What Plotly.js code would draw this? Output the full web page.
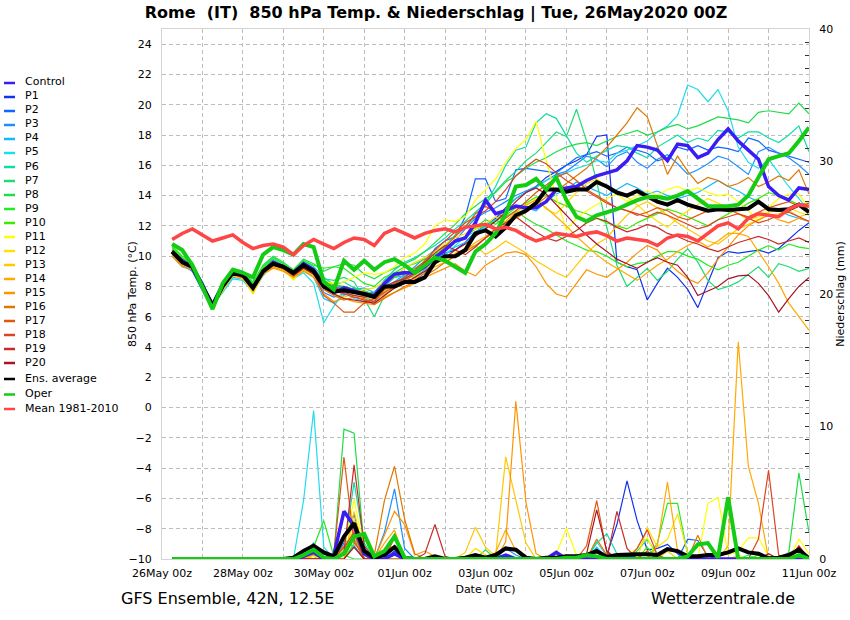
<!DOCTYPE html>
<html>
<head>
<meta charset="utf-8">
<script src="https://cdn.plot.ly/plotly-3.0.1.min.js"></script>
<style>
html,body{margin:0;padding:0;background:#ffffff;}
#chart{width:850px;height:620px;}
</style>
</head>
<body>
<div id="chart"></div>
<script>
// ---------------- DATA (6-hourly steps, 26May 06z ... 11Jun 00z) ----------------
const memberNames = ['Control','P1','P2','P3','P4','P5','P6','P7','P8','P9','P10',
  'P11','P12','P13','P14','P15','P16','P17','P18','P19','P20'];
const tickLabels = ['26May 00z','28May 00z','30May 00z','01Jun 00z','03Jun 00z','05Jun 00z','07Jun 00z','09Jun 00z','11Jun 00z'];

// 850 hPa temperature (°C)
const tControl = [10.3,9.7,9.3,8.1,6.8,8.1,9.0,8.8, 7.9,9.0,9.6,9.3,8.9,9.5,9.1,8.1, 7.6,7.9,7.7,7.5,7.4,8.2,8.8,8.9, 8.9,9.3,9.9,10.4,11.0,11.2,12.2,13.7, 12.8,13.0,13.3,13.2,13.2,13.6,14.4,14.5, 14.6,15.0,15.3,15.5,15.7,16.3,17.3,17.2, 17.0,16.3,17.4,17.3,16.5,16.8,17.7,18.4, 17.6,17.0,16.4,14.6,14.0,13.7,14.5,14.4];
const tP1 = [10.2,9.5,9.4,8.3,6.8,8.0,8.8,8.7, 8.0,9.1,9.4,9.2,8.8,9.3,8.9,8.2, 7.8,7.6,7.9,7.7,7.4,7.8,8.1,8.5, 8.4,8.9,9.7,10.2,10.4,10.9,11.6,12.0, 12.5,13.2,13.8,14.2,14.6,15.2,15.6,16.0, 16.3,16.7,17.9,18.0,9.6,9.3,9.1,7.1, 8.2,9.2,8.6,7.8,6.6,8.2,9.9,10.3, 10.2,10.3,10.4,10.2,10.5,11.1,11.7,12.2];
const tP2 = [10.4,9.7,9.0,7.8,6.6,8.1,9.0,8.9, 8.1,9.1,9.7,9.4,9.0,9.6,9.2,8.3, 7.9,8.0,7.8,7.6,7.6,8.4,8.9,9.0, 8.8,9.4,10.5,11.0,11.3,12.6,15.1,15.1, 13.6,13.8,15.7,15.8,15.7,15.6,15.5,16.0, 16.5,16.7,16.9,16.6,16.8,17.2,17.0,16.8, 16.3,16.5,17.2,17.0,17.3,17.0,17.2,17.1, 16.9,17.8,17.6,17.0,16.8,16.6,16.4,16.2];
const tP3 = [10.1,9.4,9.0,7.7,6.6,7.9,8.7,8.6, 7.8,8.9,9.3,9.1,8.7,9.2,8.8,7.6, 7.3,7.5,7.4,7.3,7.0,7.6,8.3,8.8, 9.3,9.9,10.4,10.6,11.0,11.8,12.5,12.9, 13.2,13.6,14.0,14.3,14.6,15.0,15.4,15.6, 16.1,16.6,16.4,15.9,16.6,16.9,16.2,15.8, 16.4,16.7,16.1,15.4,15.7,16.1,16.6,16.4, 15.9,15.4,16.9,17.2,16.8,16.5,16.0,15.4];
const tP4 = [10.0,9.3,9.1,7.9,6.7,7.7,8.6,8.5, 7.7,8.8,9.4,9.2,8.6,9.1,8.6,7.2, 6.9,7.4,7.8,7.9,7.6,8.0,8.6,8.7, 8.6,9.1,9.8,10.1,10.6,10.9,11.4,12.1, 12.4,12.0,12.6,13.2,13.0,13.6,14.1,14.4, 14.9,14.6,14.3,14.0,14.4,14.8,14.5,14.1, 14.3,14.0,13.8,14.0,14.2,14.6,15.0,14.6, 14.3,13.9,13.6,13.2,13.0,12.7,12.5,12.3];
const tP5 = [10.0,9.4,9.2,7.8,6.7,7.6,8.5,8.4, 7.6,8.7,9.4,9.1,8.5,8.9,8.2,5.6, 6.7,7.6,7.2,7.0,7.5,7.9,8.3,8.6, 8.8,9.2,9.8,10.1,10.7,11.3,11.6,11.9, 12.4,13.1,13.8,14.2,14.5,15.0,15.3,15.5, 15.8,16.0,16.3,16.2,16.8,17.0,17.3,17.6, 18.2,18.6,19.3,21.3,21.0,20.2,21.0,19.6, 17.2,16.2,15.8,16.4,15.5,14.6,13.8,13.0];
const tP6 = [10.5,9.8,9.4,8.1,6.9,8.2,9.1,9.0, 8.1,9.3,9.9,9.5,9.0,9.7,9.3,8.6, 8.1,8.3,7.9,7.7,7.5,8.4,9.1,9.6, 9.9,10.3,10.7,11.2,11.8,12.3,12.9,13.5, 14.6,16.0,17.0,17.2,18.8,19.4,19.1,17.9, 16.8,16.2,16.6,17.0,17.3,17.2,16.8,16.5, 17.2,17.6,18.0,17.5,17.8,17.6,18.3,18.2, 17.8,18.2,18.2,17.8,17.5,18.0,18.6,16.9];
const tP7 = [10.4,9.7,9.3,8.0,6.8,8.1,9.0,8.9, 8.2,9.2,9.8,9.4,8.9,9.6,9.1,8.5, 8.4,8.6,8.3,7.2,6.0,7.4,8.0,8.7, 9.0,9.6,10.2,10.7,11.4,12.0,12.6,13.4, 14.3,15.0,15.6,16.3,16.8,17.5,18.2,17.9, 19.7,17.6,14.9,11.9,9.4,8.0,8.6,9.2, 8.4,9.0,9.8,10.5,9.6,8.4,7.8,8.0, 8.3,8.8,9.3,8.6,9.5,9.3,9.0,9.2];
const tP8 = [10.6,9.9,9.5,8.2,6.9,8.3,9.2,9.0, 8.3,9.4,10.0,9.6,9.1,9.8,9.5,9.0, 9.3,9.5,9.4,8.8,8.5,8.9,9.2,9.5, 9.8,10.3,10.9,11.5,12.1,12.8,13.3,13.8, 14.2,14.9,15.3,15.8,16.2,16.5,16.9,17.2, 17.4,17.5,17.3,17.6,17.9,18.1,18.3,18.0, 18.2,18.5,18.7,18.4,18.6,18.9,19.2,19.1, 19.0,18.8,19.5,19.6,19.5,19.4,20.1,19.4];
const tP9 = [10.7,10.0,9.6,8.2,6.8,8.2,9.1,8.9, 8.2,9.3,9.9,9.5,9.0,9.7,9.4,9.2, 9.3,9.2,8.7,8.2,8.0,8.6,8.9,9.3, 9.5,9.8,10.1,10.5,10.9,11.2,11.9,12.4, 12.1,12.6,13.0,12.5,12.1,11.8,11.4,11.0, 10.7,10.4,10.3,10.0,9.6,9.3,9.5,9.6, 10.0,10.3,10.3,10.0,9.8,9.4,9.1,9.4, 9.6,10.0,10.4,10.7,10.4,10.8,10.6,10.5];
const tP10 = [10.6,9.9,9.4,8.0,6.7,8.1,9.0,8.8, 8.1,9.2,9.7,9.3,8.9,9.5,9.1,8.4, 8.1,8.0,7.8,7.7,7.5,8.2,8.6,8.9, 9.2,9.6,10.0,10.6,11.0,11.3,11.8,12.0, 12.3,12.7,13.2,13.5,13.9,14.0,13.6,13.3, 13.0,12.8,12.5,12.2,12.0,11.8,12.2,12.5, 12.8,13.1,12.9,12.6,12.3,12.0,12.4,12.8, 13.1,13.5,13.8,14.2,14.0,13.7,13.4,13.5];
const tP11 = [10.2,9.6,9.3,8.0,6.6,7.8,8.8,8.6, 7.6,8.8,9.4,9.2,8.4,9.3,9.0,8.3, 8.2,8.3,8.6,8.9,8.8,8.9,9.3,9.9, 10.2,10.8,12.0,12.4,12.3,12.6,13.7,14.4, 15.1,16.2,17.1,17.7,18.9,16.3,13.9,11.7, 12.5,13.0,13.4,13.8,14.1,13.6,14.0,14.3, 14.0,14.4,14.6,14.3,14.5,14.2,14.0,14.1, 13.6,13.0,12.3,13.2,13.8,14.1,14.1,13.2];
const tP12 = [10.3,9.5,9.2,7.9,6.6,7.7,8.7,8.6, 7.5,8.8,9.3,9.1,8.5,9.2,8.8,8.0, 7.9,7.8,7.6,7.8,7.9,8.3,8.7,9.2, 9.6,9.9,10.3,10.8,11.2,11.5,11.8,12.1, 12.6,12.2,12.7,13.3,13.8,13.1,12.8,13.5, 14.2,14.8,15.1,14.6,14.2,13.9,13.4,12.8, 12.3,11.9,12.5,13.0,13.4,13.8,13.5,13.2, 12.8,12.4,12.6,12.9,13.0,13.2,12.9,12.7];
const tP13 = [10.2,9.5,9.2,7.9,6.7,7.8,8.7,8.5, 7.7,8.8,9.3,9.0,8.6,9.1,8.7,7.9, 7.5,7.3,7.5,7.6,7.2,7.7,8.1,8.4, 8.7,9.2,9.5,9.8,10.2,10.5,10.7,10.1, 10.5,11.0,10.6,10.2,9.7,9.3,8.9,8.6, 9.4,10.2,10.8,11.2,12.0,12.7,13.3,13.6, 13.2,12.7,12.2,11.8,11.4,11.0,10.8,11.3, 11.8,12.1,12.4,12.7,12.8,13.0,12.6,12.8];
const tP14 = [10.1,9.4,9.3,8.1,6.7,7.9,8.8,8.6, 7.8,8.9,9.3,9.1,8.7,9.2,8.9,8.0, 7.7,7.9,7.6,7.3,7.1,7.5,7.9,8.2, 8.5,8.9,9.3,9.6,10.0,10.4,10.9,11.3, 11.8,12.3,12.9,13.4,13.7,13.2,12.6,12.0, 11.3,10.7,10.1,9.6,9.2,8.8,8.4,8.9, 9.4,9.8,10.3,10.7,11.0,10.6,11.0,11.5, 11.5,11.3,10.3,9.3,8.2,6.9,6.0,5.1];
const tP15 = [10.0,9.3,9.1,7.9,6.6,7.9,8.8,8.6, 7.8,8.8,9.2,9.0,8.6,9.0,8.6,7.5, 7.0,7.2,7.0,6.9,6.8,7.3,7.6,7.9, 8.2,8.6,8.9,9.2,9.5,9.0,8.7,9.4, 9.8,10.2,10.3,10.1,9.3,8.2,7.5,7.3, 8.2,9.1,8.8,8.6,9.1,9.6,10.2,10.7, 10.4,9.6,9.0,8.5,8.2,8.9,9.8,10.6, 11.4,12.0,12.4,12.7,12.4,12.2,12.5,12.3];
const tP16 = [10.3,9.6,9.4,8.1,6.8,8.1,8.9,8.8, 7.9,9.0,9.4,9.2,8.8,9.3,8.9,7.8, 7.4,7.1,7.3,7.2,6.8,7.2,7.6,8.0, 8.3,8.7,9.1,9.6,10.0,10.3,10.7,11.2, 11.6,12.1,12.5,12.9,13.4,13.9,14.3,14.8, 15.3,15.8,16.5,17.2,18.0,18.8,19.8,19.2, 17.3,15.4,16.6,15.6,14.8,15.2,15.0,14.6, 14.8,15.2,14.6,14.9,15.3,15.0,15.7,14.1];
const tP17 = [10.4,9.7,9.3,8.0,6.7,8.0,8.9,8.7, 7.9,9.0,9.5,9.3,8.9,9.4,8.9,7.4, 6.9,6.3,6.3,6.9,7.2,7.6,8.0,8.4, 8.8,9.3,9.9,10.6,11.3,11.9,12.8,13.3, 12.9,12.5,13.0,13.6,14.2,14.7,15.2,15.5, 15.0,14.4,14.0,13.6,13.2,13.0,12.7,12.9, 13.2,13.0,12.6,12.4,12.7,13.0,13.3,13.1, 12.8,12.6,12.9,13.2,13.4,13.6,13.3,13.5];
const tP18 = [10.2,9.5,9.2,8.0,6.7,8.0,8.8,8.7, 7.9,9.0,9.5,9.3,8.8,9.4,9.0,8.2, 7.7,7.5,7.3,7.1,7.0,7.8,8.2,8.6, 9.1,9.7,10.4,11.0,11.6,12.2,12.6,13.0, 13.6,14.4,15.3,15.9,16.4,16.1,15.5,15.0, 14.6,14.3,13.9,13.5,13.2,13.0,12.8,12.6, 12.9,12.7,12.4,12.1,11.8,12.0,12.4,12.6, 12.8,12.5,12.2,12.4,12.7,12.9,12.6,12.3];
const tP19 = [10.3,9.6,9.3,8.1,6.8,8.1,8.9,8.8, 8.0,9.1,9.6,9.4,9.0,9.5,9.1,8.3, 8.0,7.6,7.4,7.3,7.4,8.0,8.3,8.5, 8.9,9.6,10.2,10.7,10.4,10.1,10.6,11.2, 11.8,12.2,12.6,12.1,11.6,11.2,11.0,11.3, 11.7,12.2,12.5,12.3,11.9,11.6,11.8,12.1, 11.9,11.5,11.3,11.0,10.8,10.5,10.3,10.6, 10.9,11.1,11.3,11.1,10.8,11.0,11.2,10.9];
const tP20 = [10.2,9.5,9.2,7.9,6.6,7.9,8.8,8.6, 7.8,8.9,9.4,9.2,8.7,9.2,8.8,7.9, 7.5,7.2,7.1,7.0,6.9,7.4,7.9,8.2, 8.6,9.0,9.5,9.9,10.4,10.8,11.3,11.8, 12.3,12.9,13.6,14.2,14.5,14.1,13.4,12.7, 12.0,11.4,10.8,10.3,9.8,9.5,9.2,9.6, 9.9,9.6,9.4,8.6,7.4,7.7,8.0,8.5, 8.7,8.75,8.2,7.4,6.3,7.2,8.0,8.6];
const tEns = [10.3,9.6,9.3,8.0,6.7,8.0,8.9,8.75, 7.9,9.0,9.5,9.3,8.9,9.4,9.0,8.0, 7.65,7.75,7.65,7.5,7.3,8.0,8.0,8.3, 8.3,8.6,9.6,10.0,10.0,10.4,11.5,11.7, 11.3,11.9,12.7,13.0,13.5,14.4,14.4,14.25, 14.4,14.4,14.9,14.6,14.2,14.0,14.3,13.95, 13.6,13.4,13.7,13.4,13.2,13.0,13.1,13.05, 13.1,13.15,13.6,13.1,13.05,13.1,13.4,12.9];
const tOper = [10.8,10.4,9.4,8.0,6.5,8.2,9.1,8.9, 8.6,10.1,10.6,10.4,10.1,10.8,10.6,8.3, 7.8,9.7,9.1,9.7,9.1,9.6,9.8,9.4, 8.9,9.4,9.9,9.7,9.3,8.9,10.3,10.8, 11.5,12.8,14.6,14.7,15.1,14.4,15.2,13.7, 12.6,12.3,12.7,12.9,13.1,13.4,13.7,13.9, 13.9,13.8,14.0,14.3,13.8,13.3,13.3,13.3, 13.4,14.0,15.2,16.4,16.6,16.8,17.6,18.5];
const tMean = [11.1,11.5,11.8,11.4,11.0,11.2,11.4,10.9, 10.5,10.7,10.8,10.6,10.1,10.7,11.1,10.8, 10.5,10.9,11.2,11.1,10.7,11.5,11.8,11.5, 11.2,11.5,11.7,11.8,11.6,11.9,12.0,12.1, 11.8,11.9,11.7,11.3,11.0,11.2,11.5,11.4, 11.3,11.5,11.6,11.35,11.0,11.2,11.1,11.0, 10.7,11.2,11.4,11.3,11.0,11.5,12.0,12.2, 11.8,12.5,12.8,12.7,12.6,13.1,13.4,13.3];

// Precipitation (mm per 6 h)
const pControl = [0,0,0,0,0,0,0,0, 0,0,0,0,0,0.2,0.5,0, 0.3,3.6,2.5,0.4,0,0,0.4,0, 0,0,0,0,0,0,0,0, 0,0.3,0,0,0,0,0.5,0, 0,0,0,0,0,0.2,0,0, 0,0,0,0,0,0,0,0, 0,0,0,0,0,0,0,0];
const pP1 = [0,0,0,0,0,0,0,0, 0,0,0,0,0,0,0.9,0.2, 0,0.8,1.5,0,0,0,0.6,0, 0,0,0,0,0,0,0,0, 0,0,0,0,0,0,0.4,0, 0,0,0,0.3,2.6,5.9,2.9,0.7, 0.8,1.1,0.4,0,0,0,0,0, 0,0,0,0,0,0,0,0];
const pP2 = [0,0,0,0,0,0,0,0, 0,0,0,0,0,0.5,1.2,0, 0,1.2,3.4,0.3,0,0,1.0,0, 0,0,0,0,0,0,0,0, 0.2,0,0,0,0,0,0,0, 0,0,0,0,0,0,0,0, 0,0,0,1.5,1.4,0.2,0,0, 0,0,0,0,0,0,0,0];
const pP3 = [0,0,0,0,0,0,0,0, 0,0,0,0,0,0,0.4,0, 0,0,1.0,0,0,2.0,5.3,0.8, 0,0,0,0,0,0,0,0, 0,0.8,0.3,0,0,0,0,0, 0,0,0,0.4,0,0,0,0, 0,0,0,0,0,0,0,0, 0,0,0,0,0,0,0,0];
const pP4 = [0,0,0,0,0,0,0,0, 0,0,0,0,0,0.3,0.6,0, 0,0,2.0,0.5,0,0,0.3,0, 0,0,0,0,0,0,0,0, 0,0,0,0,0,0,0,0.3, 0,0,0.9,0,0.2,0,0,0, 0,0,0,0,0,0,0,0, 0,0,0,0,0,0,0,0];
const pP5 = [0,0,0,0,0,0,0,0, 0,0,0,0,0,4.4,11.2,0.9, 0,0.5,1.6,0,0,0,0,0, 0,0,0,0,0,0,0,0, 0,0,0,0,0,0,0,0.3, 0,0,1.3,0.2,0,0,0,0, 0,0,0,0,0,0,0,0, 0,0,0,0,0,0,0,0];
const pP6 = [0,0,0,0,0,0,0,0, 0,0,0,0,0,0,0.3,0, 0,0.6,5.8,1.2,0,0,0.5,0, 0,0,0,0,0,0,0,0, 0,0,0,0,0,0,0,0, 0,0,1.2,1.9,0.4,0,0,0, 0,0,0,0,0,0,0,0, 0,0.3,0,0,0,0,0,0];
const pP7 = [0,0,0,0,0,0,0,0, 0,0,0,0,0,0,0,0.6, 0,1.5,0.9,0,0,0,0,0, 0,0,0,0,0,0,0,0, 0.4,0,0,0,0,0,0,0, 0,0,0,0,0,0,0.6,1.5, 0.3,0,0,0,0,0,0,0, 0,0,0,0,0,0,0,0];
const pP8 = [0,0,0,0,0,0,0,0, 0,0,0,0,0,0,0.5,0, 0.3,9.8,9.5,0.8,0,0,0,0, 0,0,0,0,0,0,0,0.7, 0,0,0,0,0,0,0,0, 0,0,0,0,0,0,0,0, 0,0,0,0,0,0,0,0, 0,0,0,0,0,0.5,6.5,2.0];
const pP9 = [0,0,0,0,0,0,0,0, 0,0,0,0,0,0,0.9,2.9, 0.2,0.3,0,0,0,0,0,0, 0,0,0,0,0,0,0,0, 0.4,0,0,0,0,0,0,0, 0,0,0,0,0,0,0,0, 1.2,4.2,4.2,0.3,0,0,0,0, 0,0,0,0,0,0,0,0];
const pP10 = [0,0,0,0,0,0,0,0, 0,0,0,0,0,0,0.6,0.4, 0,0,1.2,1.6,0,0,0.3,0, 0,0,0,0,0,0,0,0, 0,0,0,0,0,0,0,0, 0,0,0,0,0,0,0,0.9, 0,0,0,0,0,0,0,0, 0,0,0.3,0,0,0.4,0,0];
const pP11 = [0,0,0,0,0,0,0,0, 0,0,0,0,0,0,0.2,0, 0,0.8,4.5,0.6,0,0,0,0, 0,0,0,0,0,0,0,0, 0,0,0,0,0,0,0.4,2.3, 0.3,0,0,0,0,0.3,0.8,1.6, 0,0,0,0,0,4.2,4.65,0.3, 0.6,1.6,1.6,0.2,0,0,1.5,0.4];
const pP12 = [0,0,0,0,0,0,0,0, 0,0,0,0,0,0,0.4,0, 0,0,3.0,0.5,0,0,0,0, 0,0,0,0,0,0,0.8,0.3, 0,0,0,0,0,0,0,0, 0,0,0,0,0,0,0,2.4, 0.9,1.5,3.4,0.4,0,0,0,0, 0.3,0,0,0,0,0,0,0];
const pP13 = [0,0,0,0,0,0,0,0, 0,0,0,0,0,0.3,0,0, 0,0,3.6,0.4,0,0,0,0, 0,0,0,0,0,0.5,2.4,0.9, 0.2,7.7,4.5,1.2,0,0,0,0, 0,0,0,0,0,0,0,0, 0,0.6,0,0,0,0,0,0, 0,0,0,0,0,0,0,0];
const pP14 = [0,0,0,0,0,0,0,0, 0,0,0,0,0,0,0.3,0, 0,0,1.8,0,0,1.2,2.2,0, 0,0,0,0,0,0,0,0, 0.5,2.2,0.6,0,0,0,0,0, 0,0.3,0,0,0,0,0,0, 1.0,5.8,0.6,0,0,0,0,1.0, 16.4,7.0,4.2,0,0,0,0.8,0];
const pP15 = [0,0,0,0,0,0,0,0, 0,0,0,0,0,0,0,0, 0,0.5,2.2,0,0,1.8,3.6,2.6, 0.3,0.6,0.2,0,0,0,0,0, 0,1.3,11.9,4.3,0.4,0,0,0, 0,0,0.7,0,0,0,0,0, 0,0,0,0,0,0,0,0, 0,0,0,0,0,0,0,0];
const pP16 = [0,0,0,0,0,0,0,0, 0,0,0,0,0,0,0,0, 0,1.0,1.4,0,0.3,4.4,7.0,3.0, 0.4,0,0,0,0,0,0,0, 0,0,0,0,0,0,0,0, 0,0,1.5,0.3,0,0,0,0, 0,0,0,0,1.8,0,0,0, 0,0,0,0,0,0,0,0];
const pP17 = [0,0,0,0,0,0,0,0, 0,0,0,0,0,0,0,0, 0.4,7.7,1.2,0.3,0,0,1.6,0, 0,0,0,0,0,0,0,0, 0,0,0,0,0,0,0,0, 0,1.0,4.4,0.5,0,0,0,0.6, 0,0,0,0,0,0,0,0, 0,0,0,0,0,0,0,0];
const pP18 = [0,0,0,0,0,0,0,0, 0,0,0,0,0,0,0,0, 0,0.9,2.0,0,0,0.6,1.0,0, 0,0,0,0,0,0,0,0, 0,0,0,0,0,0,0,0, 0,0,0,0,0,0,0.8,2.2, 0.3,0,0,0,0,0,0,0, 0,0,1.5,6.7,0.3,0,0,0];
const pP19 = [0,0,0,0,0,0,0,0, 0,0,0,0,0,0,0,0, 0,0.5,7.1,1.0,0,0,0,0, 0,0.4,2.6,0.2,0,0,0,0, 0,0,0,0,0,0,0,0, 0,0,0,0,3.6,0.8,0,0, 0,0,0,0,0,0,0,0, 0,0,0,0,0,0,1.0,0];
const pP20 = [0,0,0,0,0,0,0,0, 0,0,0,0,0,0,0,0, 0,0,0.9,0,0,0,0.4,0, 0,0,0,0,0,0,0,0, 0,0,0,0,0,0,0,0, 0,0.4,3.7,0.6,0,0,0,0, 0,0,0,0,0,0,0,0, 0,0,0,0.4,0,0.2,0.9,0];
const pEns = [0,0,0,0,0,0,0,0, 0,0,0,0,0.1,0.6,1.0,0.5, 0.2,1.7,2.7,0.6,0.1,0.3,0.9,0.1, 0,0,0.2,0,0,0.1,0.3,0.1, 0.3,0.8,0.7,0.1,0,0.1,0.1,0.2, 0.2,0.3,0.6,0.15,0.3,0.35,0.35,0.35, 0.3,0.75,0.6,0.2,0.2,0.3,0.3,0.5, 0.8,0.5,0.4,0.05,0.1,0.3,0.7,0.05];
const pOper = [0,0,0,0,0,0,0,0, 0,0,0,0,0,0.3,0.7,0.1, 0,0.4,1.7,1.9,0.2,0.6,1.7,0.1, 0,0,0,0,0,0,0,0, 0,0,0,0,0,0,0,0.1, 0.1,0.3,0.2,0,0,0,0,0, 0,0,0,0.2,1.1,1.2,0.1,4.65, 0,0,0,0,0,0,0.3,0];

// ---------------- STYLE ----------------
const memberColors = ['#3b1cf2','#1133ee','#1166ff','#1f8fff','#12baff','#22dcec','#10dca6','#20dc74',
  '#20dc48','#22ec22','#3aec00','#ffff00','#ffe000','#ffc800','#ffaa00','#ff9400',
  '#e07800','#e05810','#dc4424','#c82a2a','#a81424'];
const ensColor = '#000000', operColor = '#14cc14', meanColor = '#ff4646';
const FONT = 'DejaVu Sans, Verdana, sans-serif';

const tempMembers = [tControl,tP1,tP2,tP3,tP4,tP5,tP6,tP7,tP8,tP9,tP10,tP11,tP12,tP13,tP14,tP15,tP16,tP17,tP18,tP19,tP20];
const precipMembers = [pControl,pP1,pP2,pP3,pP4,pP5,pP6,pP7,pP8,pP9,pP10,pP11,pP12,pP13,pP14,pP15,pP16,pP17,pP18,pP19,pP20];

function stamp(ms){ return new Date(ms).toISOString().slice(0,16).replace('T',' '); }
const t0 = Date.UTC(2020,4,26,0);
const times = tEns.map((v,k) => stamp(t0 + (k+1)*6*3600000));
const dayTicks = []; const dayText = [];
for (let d = 0; d <= 16; d++) { dayTicks.push(stamp(t0 + d*86400000)); dayText.push(d%2===0 ? tickLabels[d/2] : ''); }

const traces = [];
function line(y, color, width, axis){ return {x: times, y: y, type:'scatter', mode:'lines', yaxis: axis,
  line:{color: color, width: width}, hoverinfo:'skip', showlegend:false}; }
// temperature: thin members first, then thick lines
for (let m = 1; m < tempMembers.length; m++) traces.push(line(tempMembers[m], memberColors[m], 1.2, 'y'));
traces.push(line(tControl, memberColors[0], 3.5, 'y'));
traces.push(line(tEns, ensColor, 4, 'y'));
traces.push(line(tOper, operColor, 4, 'y'));
traces.push(line(tMean, meanColor, 3.5, 'y'));
// precipitation
for (let m = 1; m < precipMembers.length; m++) traces.push(line(precipMembers[m], memberColors[m], 1.2, 'y2'));
traces.push(line(pControl, memberColors[0], 3.5, 'y2'));
traces.push(line(pEns, ensColor, 4, 'y2'));
traces.push(line(pOper, operColor, 4, 'y2'));

// pixel helpers for the hand-made legend (plot area: x 162..809, y 29..559)
const PL = 162, PW = 647, PB = 559, PH = 530;
const px = v => (v - PL)/PW, py = v => (PB - v)/PH;

const legendNames = memberNames.concat(['Ens. average','Oper','Mean 1981-2010']);
const legendColors = memberColors.concat([ensColor, operColor, meanColor]);
const legendY = [];
for (let k = 0; k < 21; k++) legendY.push(82 + 14*k);
legendY.push(378, 393.5, 408);

const shapes = [], annotations = [];
legendNames.forEach((name, k) => {
  shapes.push({type:'line', xref:'paper', yref:'paper', x0:px(4), x1:px(15), y0:py(legendY[k]+1), y1:py(legendY[k]+1),
    line:{color: legendColors[k], width: 2.5}});
  annotations.push({xref:'paper', yref:'paper', x:px(23), y:py(legendY[k]), xanchor:'left', yanchor:'middle',
    text:name, showarrow:false, font:{family:FONT, size:11, color:'#000'}});
});
// left axis title (placed to match the reference position)
annotations.push({xref:'paper', yref:'paper', x:px(132), y:py(294), xanchor:'center', yanchor:'middle',
  textangle:-90, text:'850 hPa Temp. (°C)', showarrow:false, font:{family:FONT, size:11, color:'#000'}});
annotations.push({xref:'paper', yref:'paper', x:px(119), y:py(598), xanchor:'left', yanchor:'middle',
  text:'GFS Ensemble, 42N, 12.5E', showarrow:false, font:{family:FONT, size:16, color:'#000'}});
annotations.push({xref:'paper', yref:'paper', x:px(649), y:py(598), xanchor:'left', yanchor:'middle',
  text:'Wetterzentrale.de', showarrow:false, font:{family:FONT, size:16, color:'#000'}});

const gridDash = '4px,3px', gridColor = '#bdbdbd', axisLine = '#d4d4d4';
const layout = {
  width: 850, height: 620,
  margin: {l: PL, r: 850-PL-PW, t: 29, b: 620-29-PH},
  paper_bgcolor: '#ffffff', plot_bgcolor: '#ffffff',
  showlegend: false,
  font: {family: FONT, size: 11, color: '#000'},
  title: {text: 'Rome\u00A0 (IT)\u00A0 850 hPa Temp. & Niederschlag | Tue, 26May2020 00Z',
    font: {family: FONT, size: 16, weight: 'bold', color: '#000'},
    x: 436/850, xanchor: 'center', y: 1 - 12/620, yanchor: 'middle'},
  xaxis: {type: 'date', range: [stamp(t0), stamp(t0 + 16*86400000)],
    tickmode: 'array', tickvals: dayTicks, ticktext: dayText, ticks: '',
    showgrid: true, gridcolor: gridColor, griddash: gridDash, gridwidth: 1,
    showline: true, linecolor: axisLine, mirror: true, zeroline: false,
    tickfont: {family: FONT, size: 11, color: '#000'}, ticklabelstandoff: 4,
    title: {text: 'Date (UTC)', font: {family: FONT, size: 11, color: '#000'}, standoff: 6}},
  yaxis: {range: [-10, 25], tick0: -10, dtick: 2, ticks: '', showgrid: true,
    gridcolor: gridColor, griddash: gridDash, gridwidth: 1, zeroline: false,
    showline: true, linecolor: axisLine,
    tickfont: {family: FONT, size: 11, color: '#000'}, ticklabelstandoff: 7},
  yaxis2: {range: [0, 40], overlaying: 'y', side: 'right', tick0: 0, dtick: 10,
    ticks: 'inside', ticklen: 4, tickcolor: '#333', tickwidth: 1,
    minor: {dtick: 1, ticks: 'inside', ticklen: 4, tickcolor: '#333', showgrid: false},
    showgrid: false, zeroline: false, showline: true, linecolor: axisLine,
    tickfont: {family: FONT, size: 11, color: '#000'}, ticklabelstandoff: 7,
    title: {text: 'Niederschlag (mm)', font: {family: FONT, size: 11, color: '#000'}, standoff: 4}},
  shapes: shapes,
  annotations: annotations
};

Plotly.newPlot('chart', traces, layout, {staticPlot: true, displayModeBar: false});
</script>
</body>
</html>
